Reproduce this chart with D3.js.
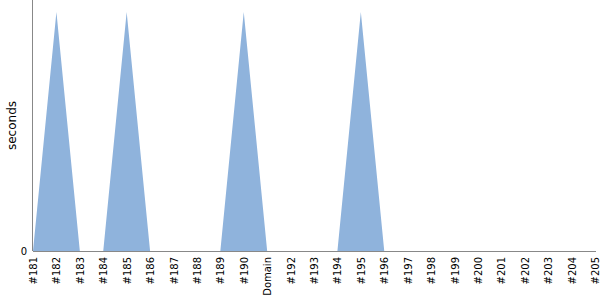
<!DOCTYPE html>
<html>
<head>
<meta charset="utf-8" />
<style>
  body { margin: 0; background: #fff; }
  svg text { font-family: "DejaVu Sans", sans-serif; }
  .axis path, .axis line { stroke: #888; }
  .axis text { font-size: 10px; fill: #000; }
  .ylabel { font-size: 12px; }
</style>
</head>
<body>
<div id="chart"></div>
<script src="https://cdnjs.cloudflare.com/ajax/libs/d3/7.8.5/d3.min.js"></script>
<script>
var builds = ["#181", "#182", "#183", "#184", "#185", "#186", "#187", "#188", "#189", "#190",
              "Domain", "#192", "#193", "#194", "#195", "#196", "#197", "#198", "#199", "#200",
              "#201", "#202", "#203", "#204", "#205"];
var seconds = [0, 1, 0, 0, 1, 0, 0, 0, 0, 1,
               0, 0, 0, 0, 1, 0, 0, 0, 0, 0,
               0, 0, 0, 0, 0];
var yTicks = [0];

var margin = {top: 0, right: 4, bottom: 49, left: 33};
var width = 600 - margin.left - margin.right;
var height = 300 - margin.top - margin.bottom;

var svg = d3.select('#chart')
  .append('svg')
  .attr('width', 600)
  .attr('height', 300)
  .append('g')
  .attr('transform', 'translate(' + margin.left + ',' + margin.top + ')');

var x = d3.scalePoint()
  .domain(builds)
  .range([0, width - 1]);

var y = d3.scaleLinear()
  .domain([0, d3.max(seconds) * 1.05])
  .range([height, 0]);

var area = d3.area()
  .x(function(d, i) { return x(builds[i]); })
  .y0(height)
  .y1(function(d) { return y(d); });

svg.append('path')
  .datum(seconds)
  .attr('fill', '#8fb3dc')
  .attr('d', area);

var xAxis = svg.append('g')
  .attr('class', 'axis')
  .attr('transform', 'translate(0,' + height + ')')
  .call(d3.axisBottom(x).tickSize(0).tickPadding(6));
xAxis.attr('font-family', null);
xAxis.select('.domain').attr('d', 'M0,0.5H' + width);
xAxis.selectAll('text')
  .attr('transform', 'rotate(-90)')
  .attr('x', -6)
  .attr('y', 0)
  .attr('dy', '0.35em')
  .style('text-anchor', 'end');

var yAxis = svg.append('g')
  .attr('class', 'axis')
  .call(d3.axisLeft(y).tickValues(yTicks).tickFormat(d3.format('d')).tickSize(0).tickPadding(6));
yAxis.attr('font-family', null);
yAxis.select('.domain').attr('d', 'M-0.5,0V' + height);

svg.append('text')
  .attr('class', 'ylabel')
  .attr('transform', 'rotate(-90)')
  .attr('x', -height / 2)
  .attr('y', -17)
  .style('text-anchor', 'middle')
  .text('seconds');
</script>
</body>
</html>
